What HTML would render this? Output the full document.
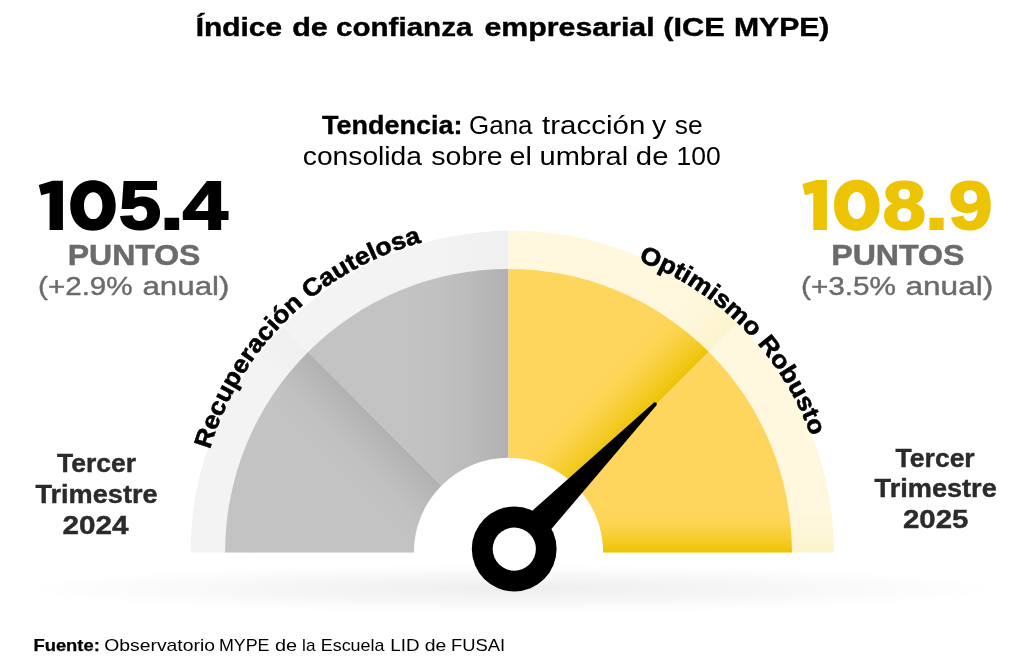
<!DOCTYPE html>
<html lang="es">
<head>
<meta charset="utf-8">
<title>Índice de confianza empresarial (ICE MYPE)</title>
<style>
  html, body { margin: 0; padding: 0; background: #ffffff; }
  body { width: 1024px; height: 669px; overflow: hidden; position: relative;
         font-family: "Liberation Sans", sans-serif; }
  svg { position: absolute; left: 0; top: 0; display: block; will-change: transform; }
  text { font-family: "Liberation Sans", sans-serif; }
  .b { font-weight: 700; }
</style>
</head>
<body>
<svg width="1024" height="669" viewBox="0 0 1024 669">
  <defs>
    <!-- sector gradients -->
    <linearGradient id="g1" gradientUnits="userSpaceOnUse" x1="508.5" y1="552.3" x2="465.4" y2="595.4">
      <stop offset="0" stop-color="#b1b1b1"/><stop offset="0.35" stop-color="#bababa"/><stop offset="0.7" stop-color="#c1c1c1"/><stop offset="1" stop-color="#c3c3c3"/>
    </linearGradient>
    <linearGradient id="g2" gradientUnits="userSpaceOnUse" x1="508.5" y1="0" x2="408" y2="0">
      <stop offset="0" stop-color="#b1b1b1"/><stop offset="0.35" stop-color="#bababa"/><stop offset="0.7" stop-color="#c1c1c1"/><stop offset="1" stop-color="#c3c3c3"/>
    </linearGradient>
    <linearGradient id="g3" gradientUnits="userSpaceOnUse" x1="508.5" y1="552.3" x2="467.5" y2="511.3">
      <stop offset="0" stop-color="#edc404"/><stop offset="0.35" stop-color="#f6cd30"/><stop offset="0.7" stop-color="#fdd452"/><stop offset="1" stop-color="#ffd65d"/>
    </linearGradient>
    <linearGradient id="g4" gradientUnits="userSpaceOnUse" x1="0" y1="552.3" x2="0" y2="510.5">
      <stop offset="0" stop-color="#edc404"/><stop offset="0.35" stop-color="#f6cd30"/><stop offset="0.7" stop-color="#fdd452"/><stop offset="1" stop-color="#ffd65d"/>
    </linearGradient>
    <radialGradient id="sh" cx="0.5" cy="0.5" r="0.5">
      <stop offset="0" stop-color="#000" stop-opacity="0.068"/>
      <stop offset="0.55" stop-color="#000" stop-opacity="0.03"/>
      <stop offset="1" stop-color="#000" stop-opacity="0"/>
    </radialGradient>
    <clipPath id="cOut"><path d="M190.55 552.55 L190.55 552.3 A321.7 321.7 0 0 1 833.95 552.3 L833.95 552.55 Z"/></clipPath>
    <clipPath id="cIn"><path d="M225.1 552.55 L225.1 552.3 A283.4 283.4 0 0 1 791.9 552.3 L791.9 552.55 Z"/></clipPath>
    <g id="sectors">
      <polygon points="508.5,552.3 508.5,553 108.5,553 108.5,152.3" fill="url(#g1)"/>
      <polygon points="508.5,552.3 108.5,152.3 508.5,152.3" fill="url(#g2)"/>
      <polygon points="508.5,552.3 508.5,152.3 908.5,152.3" fill="url(#g3)"/>
      <polygon points="508.5,552.3 908.5,152.3 908.5,553 508.5,553" fill="url(#g4)"/>
    </g>
    <path id="arcL" d="M 198.1 533.5 A 301.1 301.1 0 0 1 499.2 232.4"/>
    <path id="arcR" d="M 536 242.3 A 291.8 291.8 0 0 1 827.8 534.1"/>
  </defs>

  <!-- floor shadow -->
  <ellipse cx="512" cy="588.8" rx="492" ry="24.3" fill="url(#sh)"/>

  <!-- gauge -->
  <g clip-path="url(#cOut)" opacity="0.2"><use href="#sectors"/></g>
  <g clip-path="url(#cIn)"><use href="#sectors"/></g>
  <!-- hub -->
  <path d="M413.9 553.6 L413.9 552.3 A94.6 94.6 0 0 1 603.1 552.3 L603.1 553.6 Z" fill="#ffffff"/>

  <!-- needle -->
  <g fill="#000000">
    <polygon points="502.1,537.6 653.7,402.8 656.3,405.4 525.1,560.0"/>
    <circle cx="655.0" cy="404.1" r="1.9"/>
  </g>
  <circle cx="514.2" cy="549.0" r="42.4" fill="#000000"/>
  <circle cx="514.3" cy="549.1" r="21.6" fill="#ffffff"/>

  <!-- curved labels -->
  <text class="b" font-size="24.5" fill="#000000" stroke="#000000" stroke-width="0.6"><textPath href="#arcL" startOffset="85" textLength="309.5" lengthAdjust="spacingAndGlyphs">Recuperación Cautelosa</textPath></text>
  <text class="b" font-size="24.5" fill="#000000" stroke="#000000" stroke-width="0.6"><textPath href="#arcR" startOffset="104.5" textLength="254" lengthAdjust="spacingAndGlyphs">Optimismo Robusto</textPath></text>

  <!-- title -->
  <text id="ti0" x="195.72" textLength="86.40" lengthAdjust="spacingAndGlyphs" class="b" y="35.7" font-size="25.3" fill="#000000" stroke="#000000" stroke-width="0.4">Índice</text>
  <text id="ti1" x="292.17" textLength="35.70" lengthAdjust="spacingAndGlyphs" class="b" y="35.7" font-size="25.3" fill="#000000" stroke="#000000" stroke-width="0.4">de</text>
  <text id="ti2" x="336.05" textLength="136.30" lengthAdjust="spacingAndGlyphs" class="b" y="35.7" font-size="25.3" fill="#000000" stroke="#000000" stroke-width="0.4">confianza</text>
  <text id="ti3" x="484.48" textLength="170.15" lengthAdjust="spacingAndGlyphs" class="b" y="35.7" font-size="25.3" fill="#000000" stroke="#000000" stroke-width="0.4">empresarial</text>
  <text id="ti4" x="663.26" textLength="61.42" lengthAdjust="spacingAndGlyphs" class="b" y="35.7" font-size="25.3" fill="#000000" stroke="#000000" stroke-width="0.4">(ICE</text>
  <text id="ti5" x="733.90" textLength="95.54" lengthAdjust="spacingAndGlyphs" class="b" y="35.7" font-size="25.3" fill="#000000" stroke="#000000" stroke-width="0.4">MYPE)</text>

  <!-- trend -->
  <text id="ta0" x="322.10" textLength="140.45" lengthAdjust="spacingAndGlyphs" y="134.4" font-size="25.2" fill="#000000" class="b" stroke="#000000" stroke-width="0.35">Tendencia:</text>
  <text id="ta1" x="469.08" textLength="63.42" lengthAdjust="spacingAndGlyphs" y="134.4" font-size="25.2" fill="#000000">Gana</text>
  <text id="ta2" x="542.14" textLength="103.16" lengthAdjust="spacingAndGlyphs" y="134.4" font-size="25.2" fill="#000000">tracción</text>
  <text id="ta3" x="651.95" textLength="14.26" lengthAdjust="spacingAndGlyphs" y="134.4" font-size="25.2" fill="#000000">y</text>
  <text id="ta4" x="674.86" textLength="27.74" lengthAdjust="spacingAndGlyphs" y="134.4" font-size="25.2" fill="#000000">se</text>
  <text id="tb0" x="302.79" textLength="119.21" lengthAdjust="spacingAndGlyphs" y="164.7" font-size="25.2" fill="#000000">consolida</text>
  <text id="tb1" x="431.32" textLength="71.33" lengthAdjust="spacingAndGlyphs" y="164.7" font-size="25.2" fill="#000000">sobre</text>
  <text id="tb2" x="509.60" textLength="22.32" lengthAdjust="spacingAndGlyphs" y="164.7" font-size="25.2" fill="#000000">el</text>
  <text id="tb3" x="539.49" textLength="88.73" lengthAdjust="spacingAndGlyphs" y="164.7" font-size="25.2" fill="#000000">umbral</text>
  <text id="tb4" x="635.89" textLength="32.67" lengthAdjust="spacingAndGlyphs" y="164.7" font-size="25.2" fill="#000000">de</text>
  <text id="tb5" x="676.60" textLength="44.20" lengthAdjust="spacingAndGlyphs" y="164.7" font-size="25.2" fill="#000000">100</text>

  <!-- left figures -->
  <polygon id="one_a" fill="#000000" points="38.8,185.1 52.5,180.7 62.9,180.7 62.9,229.9 49.6,229.9 49.6,193.0 41.2,195.3"/>
  <path id="zero_a" fill="#000000" fill-rule="evenodd" d="M70.30 205.50 C70.30 190.38 79.38 180.30 93.00 180.30 C106.62 180.30 115.70 190.38 115.70 205.50 C115.70 220.62 106.62 230.70 93.00 230.70 C79.38 230.70 70.30 220.62 70.30 205.50 Z M84.00 205.70 C84.00 197.93 87.86 192.30 93.20 192.30 C98.54 192.30 102.40 197.93 102.40 205.70 C102.40 213.47 98.54 219.10 93.20 219.10 C87.86 219.10 84.00 213.47 84.00 205.70 Z"/>
  <text id="na2" x="119.04" textLength="42.11" lengthAdjust="spacingAndGlyphs" class="b" y="229.1" font-size="68.9" fill="#000000" stroke="#000000" stroke-width="2">5</text>
  <text id="na3" x="160.08" textLength="23.84" lengthAdjust="spacingAndGlyphs" class="b" y="229.1" font-size="68.9" fill="#000000" stroke="#000000" stroke-width="2">.</text>
  <text id="na4" x="182.65" textLength="45.11" lengthAdjust="spacingAndGlyphs" class="b" y="229.1" font-size="68.9" fill="#000000" stroke="#000000" stroke-width="2">4</text>
  <text id="puL" class="b" x="67.71" y="264.7" font-size="29.9" fill="#6b6b6b" textLength="132.68" lengthAdjust="spacingAndGlyphs" stroke="#6b6b6b" stroke-width="0.5">PUNTOS</text>
  <text id="anL0" x="38.06" textLength="94.57" lengthAdjust="spacingAndGlyphs" y="295.2" font-size="26.5" fill="#6b6b6b" stroke="#6b6b6b" stroke-width="0.4">(+2.9%</text>
  <text id="anL1" x="142.41" textLength="87.04" lengthAdjust="spacingAndGlyphs" y="295.2" font-size="26.5" fill="#6b6b6b" stroke="#6b6b6b" stroke-width="0.4">anual)</text>

  <!-- right figures -->
  <polygon id="one_b" fill="#edc404" points="802.45,184.0 816.1,180.0 826.9,180.0 826.9,230.1 813.3,230.1 813.3,193.0 804.95,195.3"/>
  <path id="zero_b" fill="#edc404" fill-rule="evenodd" d="M834.10 205.20 C834.10 189.90 843.20 179.70 856.85 179.70 C870.50 179.70 879.60 189.90 879.60 205.20 C879.60 220.50 870.50 230.70 856.85 230.70 C843.20 230.70 834.10 220.50 834.10 205.20 Z M847.90 205.60 C847.90 197.77 851.60 192.10 856.70 192.10 C861.80 192.10 865.50 197.77 865.50 205.60 C865.50 213.43 861.80 219.10 856.70 219.10 C851.60 219.10 847.90 213.43 847.90 205.60 Z"/>
  <text id="nb2" x="882.76" textLength="43.10" lengthAdjust="spacingAndGlyphs" class="b" y="229.4" font-size="68.9" fill="#edc404" stroke="#edc404" stroke-width="2">8</text>
  <text id="nb3" x="925.24" textLength="22.81" lengthAdjust="spacingAndGlyphs" class="b" y="229.4" font-size="68.9" fill="#edc404" stroke="#edc404" stroke-width="2">.</text>
  <text id="nb4" x="948.81" textLength="43.81" lengthAdjust="spacingAndGlyphs" class="b" y="229.4" font-size="68.9" fill="#edc404" stroke="#edc404" stroke-width="2">9</text>
  <text id="puR" class="b" x="831.21" y="264.7" font-size="29.9" fill="#6b6b6b" textLength="133.28" lengthAdjust="spacingAndGlyphs" stroke="#6b6b6b" stroke-width="0.5">PUNTOS</text>
  <text id="anR0" x="801.06" textLength="95.01" lengthAdjust="spacingAndGlyphs" y="295.2" font-size="26.5" fill="#6b6b6b" stroke="#6b6b6b" stroke-width="0.4">(+3.5%</text>
  <text id="anR1" x="905.41" textLength="87.94" lengthAdjust="spacingAndGlyphs" y="295.2" font-size="26.5" fill="#6b6b6b" stroke="#6b6b6b" stroke-width="0.4">anual)</text>

  <!-- period labels -->
  <g class="b" font-size="25.5" fill="#2b2b2b" stroke="#2b2b2b" stroke-width="0.4">
    <text id="teL" x="57.00" y="472.1" textLength="79.06" lengthAdjust="spacingAndGlyphs">Tercer</text>
    <text id="trL" x="35.45" y="503" textLength="122.16" lengthAdjust="spacingAndGlyphs">Trimestre</text>
    <text id="y24" x="62.44" y="533.7" textLength="66.06" lengthAdjust="spacingAndGlyphs">2024</text>
    <text id="teR" x="895.60" y="467" textLength="79.10" lengthAdjust="spacingAndGlyphs">Tercer</text>
    <text id="trR" x="874.60" y="497.4" textLength="122.16" lengthAdjust="spacingAndGlyphs">Trimestre</text>
    <text id="y25" x="902.93" y="528.2" textLength="65.49" lengthAdjust="spacingAndGlyphs">2025</text>
  </g>

  <!-- source -->
  <text id="sr0" x="33.45" textLength="66.39" lengthAdjust="spacingAndGlyphs" y="650.7" font-size="16.2" fill="#000000" class="b" stroke="#000000" stroke-width="0.25">Fuente:</text>
  <text id="sr1" x="104.23" textLength="110.79" lengthAdjust="spacingAndGlyphs" y="650.7" font-size="16.2" fill="#000000">Observatorio</text>
  <text id="sr2" x="218.95" textLength="50.60" lengthAdjust="spacingAndGlyphs" y="650.7" font-size="16.2" fill="#000000">MYPE</text>
  <text id="sr3" x="274.90" textLength="22.13" lengthAdjust="spacingAndGlyphs" y="650.7" font-size="16.2" fill="#000000">de</text>
  <text id="sr4" x="302.13" textLength="13.36" lengthAdjust="spacingAndGlyphs" y="650.7" font-size="16.2" fill="#000000">la</text>
  <text id="sr5" x="320.73" textLength="63.78" lengthAdjust="spacingAndGlyphs" y="650.7" font-size="16.2" fill="#000000">Escuela</text>
  <text id="sr6" x="390.36" textLength="29.25" lengthAdjust="spacingAndGlyphs" y="650.7" font-size="16.2" fill="#000000">LID</text>
  <text id="sr7" x="424.70" textLength="21.63" lengthAdjust="spacingAndGlyphs" y="650.7" font-size="16.2" fill="#000000">de</text>
  <text id="sr8" x="450.91" textLength="54.18" lengthAdjust="spacingAndGlyphs" y="650.7" font-size="16.2" fill="#000000">FUSAI</text>
</svg>
</body>
</html>
